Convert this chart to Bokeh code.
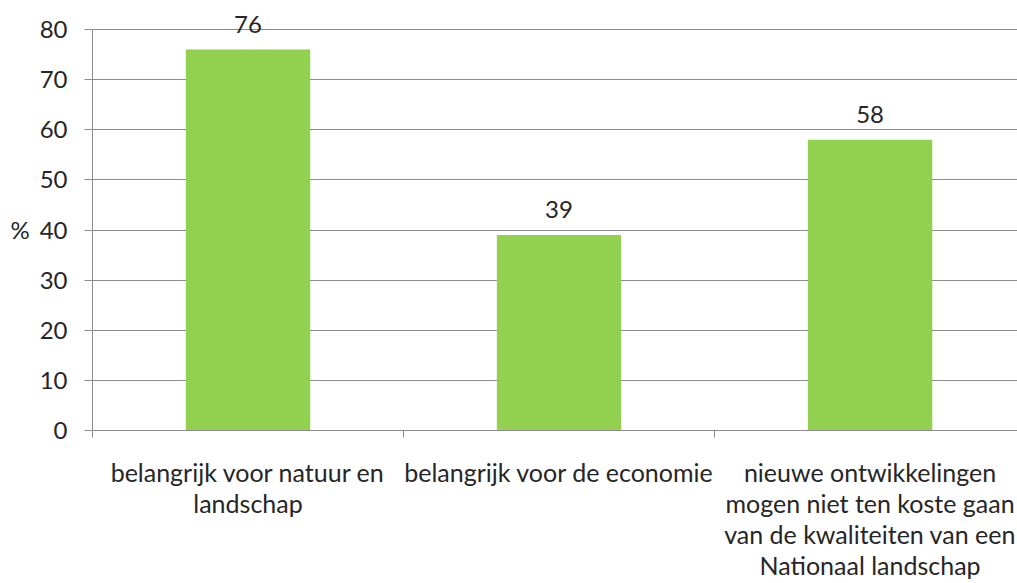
import numpy as np
from bokeh.plotting import figure
from bokeh.models import ColumnDataSource, LabelSet, FixedTicker, Range1d
from bokeh.core.properties import value
from bokeh.embed import file_html
from bokeh.resources import INLINE

categories = [
    "belangrijk voor natuur en\nlandschap",
    "belangrijk voor de economie",
    "nieuwe ontwikkelingen\nmogen niet ten koste gaan\nvan de kwaliteiten van een\nNationaal landschap",
]
values = [76, 39, 58]
y_ticks = [0, 10, 20, 30, 40, 50, 60, 70, 80]

FONT = "Lato"
FS = "24px"
TXT = "#262626"
GRID = "#8c8c8c"

x = np.arange(len(categories)) + 0.5
src = ColumnDataSource(dict(x=x, top=values, lab=[str(v) for v in values]))

p = figure(width=1017, height=583, output_backend="svg", toolbar_location=None,
           x_range=Range1d(0, 2.974), y_range=Range1d(0, 84),
           min_border_left=92, min_border_top=9, min_border_right=0, min_border_bottom=153)
p.outline_line_color = None
p.background_fill_color = "white"
p.border_fill_color = "white"

p.vbar(x="x", top="top", width=0.4, bottom=0, source=src, color="#92d050", line_color=None)

# y axis
p.yaxis.ticker = FixedTicker(ticks=y_ticks)
p.yaxis.bounds = (0, 80)
p.yaxis.axis_label = "\n%"
p.yaxis.axis_label_orientation = "horizontal"
p.yaxis.axis_label_text_font = FONT
p.yaxis.axis_label_text_font_style = "normal"
p.yaxis.axis_label_text_font_size = FS
p.yaxis.axis_label_text_color = TXT
p.yaxis.axis_label_text_line_height = 0.65
p.yaxis.axis_label_standoff = 7
p.yaxis.major_label_text_font = FONT
p.yaxis.major_label_text_font_size = FS
p.yaxis.major_label_text_color = TXT
p.yaxis.major_label_standoff = 17
p.yaxis.major_tick_in = 0
p.yaxis.major_tick_out = 8
p.yaxis.minor_tick_line_color = None
p.yaxis.axis_line_color = GRID
p.yaxis.major_tick_line_color = GRID

# x axis: labels at category centres, tick marks at category boundaries
p.xaxis.ticker = FixedTicker(ticks=list(x), minor_ticks=list(range(len(categories) + 1)))
p.xaxis.major_label_overrides = {float(xi): c for xi, c in zip(x, categories)}
p.xaxis.major_label_text_font = FONT
p.xaxis.major_label_text_font_size = "25px"
p.xaxis.major_label_text_color = TXT
p.xaxis.major_label_text_line_height = 1.04
p.xaxis.major_label_standoff = 19
p.xaxis.major_tick_in = 0
p.xaxis.major_tick_out = 0
p.xaxis.major_tick_line_color = None
p.xaxis.minor_tick_in = 0
p.xaxis.minor_tick_out = 7
p.xaxis.minor_tick_line_color = GRID
p.xaxis.axis_line_color = GRID

p.xgrid.grid_line_color = None
p.ygrid.grid_line_color = GRID
p.ygrid.ticker = FixedTicker(ticks=y_ticks)

vals = LabelSet(x="x", y="top", text="lab", source=src, text_align="center",
                text_baseline="alphabetic", y_offset=17, text_font=value(FONT),
                text_font_size=FS, text_color=TXT)
p.add_layout(vals)

open("out.html", "w").write(file_html(p, INLINE))
